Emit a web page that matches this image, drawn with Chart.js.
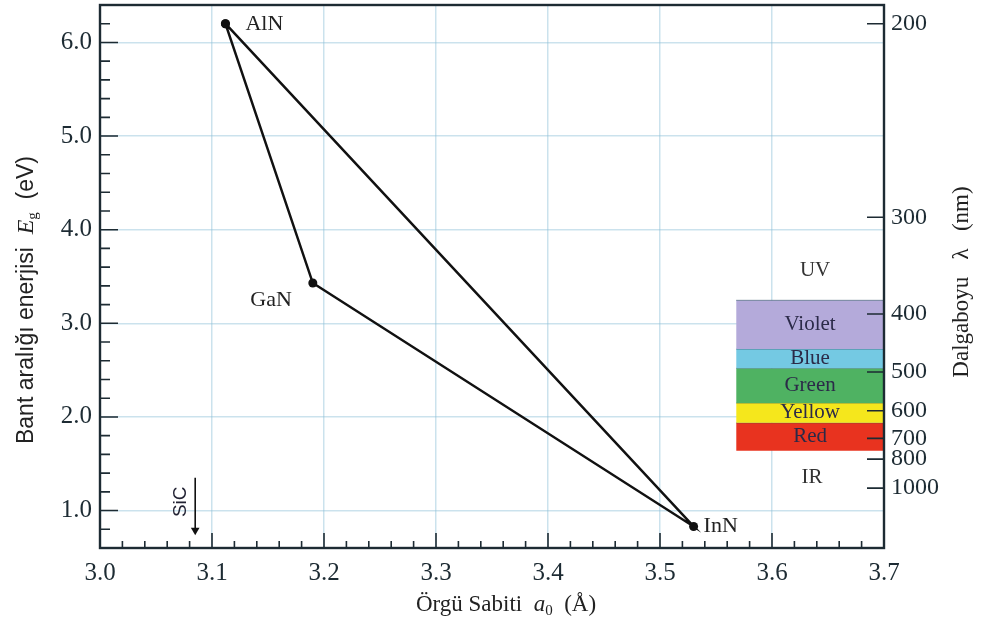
<!DOCTYPE html>
<html><head><meta charset="utf-8">
<script src="https://cdn.jsdelivr.net/npm/chart.js@4"></script>
<style>html,body{margin:0;padding:0;background:#fff}#wrap{width:981px;height:624px;position:relative}</style>
</head><body><div id="wrap"><canvas id="c"></canvas></div>
<script>
// ---- data ----
const materials = ['AlN', 'GaN', 'InN'];
const latticeConstant = [3.112, 3.190, 3.530];   // a0 (Å)
const bandGapEnergy = [6.20, 3.43, 0.83];        // Eg (eV)
const triangleOrder = [0, 1, 2, 0];
const xTickValues = [3.0, 3.1, 3.2, 3.3, 3.4, 3.5, 3.6, 3.7];
const yTickValues = [1.0, 2.0, 3.0, 4.0, 5.0, 6.0];
const wavelengthTicks = [200, 300, 400, 500, 600, 700, 800, 1000]; // nm
const bandNames = ['Violet', 'Blue', 'Green', 'Yellow', 'Red'];
const bandShortNm = [382, 455, 492, 577, 640];
const bandLongNm = [455, 492, 577, 640, 756];
const bandColors = ['#b4aada', '#74c9e3', '#4fb262', '#f5e71c', '#e8331f'];
const bandLattice = [3.568, 3.7];
const regionNames = ['UV', 'IR'];
const sicLabel = 'SiC';
const sicLattice = 3.085;
const sicArrowEnergy = [1.35, 0.79];
const xTitle = ['Örgü Sabiti  ', 'a', '0', '  (Å)'];
const yTitle = ['Bant aralığı enerjisi  ', 'E', 'g', '  (eV)'];
const y2Title = 'Dalgaboyu   λ   (nm)';

// ---- helpers ----
const HC = 1239.84;
const serif = "'Liberation Serif', 'Times New Roman', serif";
const sans = "'Liberation Sans', Arial, sans-serif";
const ink = '#1d2b33';
const gridColor = 'rgba(140,190,215,0.45)';

const datasets = [];
bandNames.forEach((n, i) => {
  datasets.push({
    label: n,
    data: bandLattice.map(x => ({x, y: HC / bandShortNm[i]})),
    showLine: true,
    fill: {value: HC / bandLongNm[i]},
    backgroundColor: bandColors[i],
    borderColor: 'rgba(40,80,95,0.55)',
    borderWidth: 1,
    pointRadius: 0,
    order: 3
  });
});
datasets.push({
  label: 'triangle',
  data: triangleOrder.map(i => ({x: latticeConstant[i], y: bandGapEnergy[i]})),
  showLine: true, fill: false, tension: 0,
  borderColor: '#111', borderWidth: 2.5,
  pointRadius: 4.5, pointBackgroundColor: '#111', pointBorderWidth: 0,
  order: 1
});
datasets.push({
  label: 'SiC',
  data: sicArrowEnergy.map(y => ({x: sicLattice, y})),
  showLine: true, fill: false,
  borderColor: '#111', borderWidth: 1.6,
  pointRadius: [0, 5], pointStyle: 'triangle', pointRotation: 180,
  pointBackgroundColor: '#111', pointBorderWidth: 0,
  order: 1
});

function drawRuns(ctx, runs, cx, cy) {
  let w = 0;
  runs.forEach(r => { ctx.font = r.font; r.w = ctx.measureText(r.t).width; w += r.w; });
  let x = cx - w / 2;
  ctx.textAlign = 'left'; ctx.textBaseline = 'middle';
  runs.forEach(r => { ctx.font = r.font; ctx.fillText(r.t, x, cy + (r.dy || 0)); x += r.w; });
}

const overlay = {
  id: 'overlay',
  afterDatasetsDraw(chart) {
    const {ctx, chartArea: a, scales} = chart;
    const xs = scales.x, ys = scales.y;
    ctx.save();
    ctx.strokeStyle = ink; ctx.fillStyle = ink;
    // inward ticks
    ctx.lineWidth = 1.6;
    ctx.beginPath();
    for (let v = ys.min; v <= ys.max + 1e-9; v += 0.2) {
      const py = ys.getPixelForValue(v);
      const major = yTickValues.some(t => Math.abs(t - v) < 1e-6);
      ctx.moveTo(a.left, py); ctx.lineTo(a.left + (major ? 18 : 10), py);
    }
    for (let v = xs.min; v <= xs.max + 1e-9; v += 0.02) {
      const px = xs.getPixelForValue(v);
      const major = xTickValues.some(t => Math.abs(t - v) < 1e-6);
      ctx.moveTo(px, a.bottom); ctx.lineTo(px, a.bottom - (major ? 15 : 7));
    }
    wavelengthTicks.forEach(l => {
      const py = ys.getPixelForValue(HC / l);
      ctx.moveTo(a.right, py); ctx.lineTo(a.right - 17, py);
    });
    ctx.stroke();
    // frame
    ctx.lineWidth = 2.4;
    ctx.strokeRect(a.left, a.top, a.right - a.left, a.bottom - a.top);

    // material labels
    ctx.fillStyle = '#222';
    ctx.font = '22px ' + serif;
    ctx.textBaseline = 'middle';
    const offs = [[20, 0, 'left'], [-21, 17, 'right'], [10, 0, 'left']];
    materials.forEach((m, i) => {
      const px = xs.getPixelForValue(latticeConstant[i]);
      const py = ys.getPixelForValue(bandGapEnergy[i]);
      ctx.textAlign = offs[i][2];
      ctx.fillText(m, px + offs[i][0], py + offs[i][1]);
    });
    // band labels
    const bx = (xs.getPixelForValue(bandLattice[0]) + xs.getPixelForValue(bandLattice[1])) / 2;
    ctx.textAlign = 'center';
    ctx.font = '21px ' + serif;
    ctx.fillStyle = '#2b2a48';
    bandNames.forEach((n, i) => {
      const t = ys.getPixelForValue(HC / bandShortNm[i]);
      const b = ys.getPixelForValue(HC / bandLongNm[i]);
      ctx.fillText(n, bx, (t + b) / 2);
    });
    ctx.fillStyle = '#333';
    ctx.font = '21px ' + serif;
    ctx.fillText(regionNames[0], bx + 5, ys.getPixelForValue(HC / bandShortNm[0]) - 30);
    ctx.fillText(regionNames[1], bx + 2, ys.getPixelForValue(HC / bandLongNm[bandLongNm.length - 1]) + 27);
    // SiC label
    ctx.save();
    const sx = xs.getPixelForValue(sicLattice) - 14;
    const sy = ys.getPixelForValue(sicArrowEnergy[0]) + 24;
    ctx.translate(sx, sy); ctx.rotate(-Math.PI / 2);
    ctx.font = '19px ' + sans; ctx.fillStyle = '#223';
    ctx.fillText(sicLabel, 0, 0);
    ctx.restore();

    // axis titles
    ctx.fillStyle = '#222';
    drawRuns(ctx, [
      {t: xTitle[0], font: '23px ' + serif},
      {t: xTitle[1], font: 'italic 23px ' + serif},
      {t: xTitle[2], font: '15px ' + serif, dy: 6},
      {t: xTitle[3], font: '23px ' + serif}
    ], 506, 605);
    ctx.save();
    ctx.translate(27, 300); ctx.rotate(-Math.PI / 2);
    drawRuns(ctx, [
      {t: yTitle[0], font: '23px ' + sans},
      {t: yTitle[1], font: 'italic 24px ' + serif},
      {t: yTitle[2], font: '15px ' + serif, dy: 6},
      {t: yTitle[3], font: '23px ' + sans}
    ], 0, 0);
    ctx.restore();
    ctx.save();
    ctx.translate(962, 282); ctx.rotate(-Math.PI / 2);
    drawRuns(ctx, [{t: y2Title, font: '23px ' + serif}], 0, 0);
    ctx.restore();
    ctx.restore();
  }
};

const tickFont = {family: serif, size: 25};
const noPadY = s => { s.paddingTop = 0; s.paddingBottom = 0; };
new Chart(document.getElementById('c'), {
  type: 'scatter',
  data: {datasets},
  plugins: [overlay],
  options: {
    responsive: true, maintainAspectRatio: false, animation: false,
    layout: {padding: {top: 5, left: 0, right: 0, bottom: 0}},
    plugins: {legend: {display: false}, tooltip: {enabled: false}},
    events: [],
    scales: {
      x: {
        type: 'linear', min: 3.0, max: 3.7,
        afterBuildTicks: s => { s.ticks = xTickValues.map(v => ({value: v})); },
        afterFit: s => { s.height = 76; s.paddingLeft = 0; s.paddingRight = 0; },
        ticks: {callback: v => v.toFixed(1), font: tickFont, color: ink, padding: 10, maxRotation: 0, autoSkip: false},
        grid: {color: gridColor, lineWidth: 1.5, drawTicks: false},
        border: {display: false}
      },
      y: {
        type: 'linear', position: 'left', min: 0.6, max: 6.4,
        afterBuildTicks: s => { s.ticks = yTickValues.map(v => ({value: v})); },
        afterFit: s => { s.width = 100; noPadY(s); },
        ticks: {callback: v => v.toFixed(1), font: tickFont, color: ink, padding: 8, autoSkip: false},
        grid: {color: gridColor, lineWidth: 1.5, drawTicks: false},
        border: {display: false}
      },
      y2: {
        type: 'linear', position: 'right', min: 0.6, max: 6.4,
        afterBuildTicks: s => { s.ticks = wavelengthTicks.map(l => ({value: HC / l})); },
        afterFit: s => { s.width = 97; noPadY(s); },
        ticks: {callback: (v, i) => String(wavelengthTicks[i]), font: {family: serif, size: 24}, color: ink, padding: 7, autoSkip: false},
        grid: {display: false, drawTicks: false},
        border: {display: false}
      }
    }
  }
});
</script>
</body></html>
